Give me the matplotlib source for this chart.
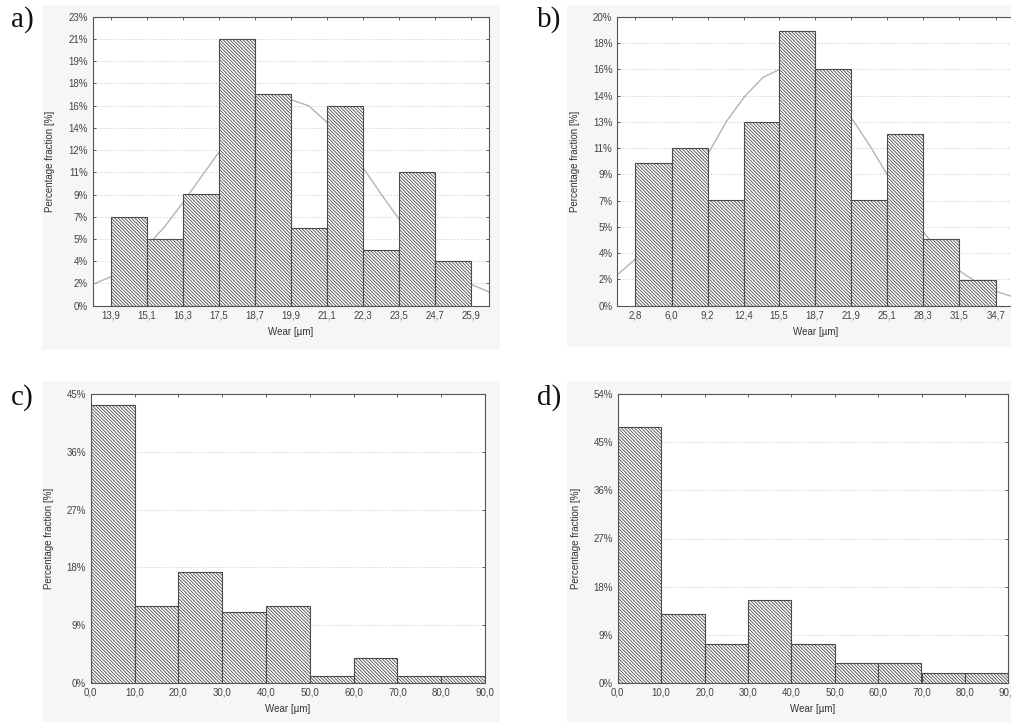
import numpy as np
import matplotlib.pyplot as plt
from matplotlib.patches import Rectangle

plt.rcParams['font.family'] = ['Liberation Sans', 'DejaVu Sans']
plt.rcParams['hatch.linewidth'] = 0.6

# a) wear histogram, bins of 1.2 um
edges_a = [13.9, 15.1, 16.3, 17.5, 18.7, 19.9, 21.1, 22.3, 23.5, 24.7, 25.9]
pct_a = [7.08, 5.31, 8.85, 21.24, 16.81, 6.19, 15.93, 4.42, 10.62, 3.54]
ylab_a = ["0%", "2%", "4%", "5%", "7%", "9%", "11%", "12%", "14%", "16%", "18%", "19%", "21%", "23%"]
curve_x_a = [13.3, 13.9, 14.5, 15.1, 15.7, 16.3, 16.9, 17.5, 18.1, 18.7, 19.3, 19.9,
             20.5, 21.1, 21.7, 22.3, 22.9, 23.5, 24.1, 24.7, 25.3, 25.9, 26.5]
curve_y_a = [1.7, 2.3, 3.3, 4.7, 6.3, 8.2, 10.2, 12.2, 14.0, 15.4, 16.2, 16.4,
             15.9, 14.6, 12.9, 11.0, 8.9, 6.9, 5.1, 3.6, 2.5, 1.7, 1.1]

# b)
edges_b = [2.8, 6.0, 9.2, 12.4, 15.5, 18.7, 21.9, 25.1, 28.3, 31.5, 34.7]
pct_b = [9.9, 10.9, 7.3, 12.7, 19.0, 16.4, 7.3, 11.9, 4.6, 1.8]
ylab_b = ["0%", "2%", "4%", "5%", "7%", "9%", "11%", "13%", "14%", "16%", "18%", "20%"]
curve_x_b = [1.3, 2.9, 4.5, 6.1, 7.7, 9.3, 10.9, 12.5, 14.1, 15.7, 17.3, 18.9,
             20.5, 22.1, 23.7, 25.3, 26.9, 28.5, 30.1, 31.7, 33.3, 34.9, 36.3]
curve_y_b = [2.2, 3.3, 5.0, 6.8, 8.7, 10.6, 12.8, 14.5, 15.8, 16.4, 16.4, 15.7,
             14.3, 12.8, 10.9, 8.8, 6.7, 4.9, 3.4, 2.3, 1.5, 0.95, 0.6]

# c)
edges_c = [0, 10, 20, 30, 40, 50, 60, 70, 80, 90]
pct_c = [43.3, 11.9, 17.2, 11.0, 11.9, 1.0, 3.8, 1.0, 1.0]
ylab_c = ["0%", "9%", "18%", "27%", "36%", "45%"]

# d)
edges_d = [0, 10, 20, 30, 40, 50, 60, 70, 80, 90]
pct_d = [47.8, 12.8, 7.2, 15.4, 7.2, 3.7, 3.7, 1.9, 1.9]
ylab_d = ["0%", "9%", "18%", "27%", "36%", "45%", "54%"]

W, H = 1011, 722
fig = plt.figure(figsize=(W / 100, H / 100), dpi=100)

# light grey graph backgrounds (pixel boxes: x0, y0, x1, y1)
for x0, y0, x1, y1 in [(42, 5, 500, 350), (567, 5, 1011, 347),
                       (42, 381, 500, 722), (567, 381, 1011, 722)]:
    fig.patches.append(Rectangle((x0 / W, 1 - y1 / H), (x1 - x0) / W, (y1 - y0) / H,
                                 transform=fig.transFigure, facecolor='#f6f6f6',
                                 edgecolor='none', zorder=-5))


def px_axes(x0, y0, x1, y1):
    return fig.add_axes([x0 / W, 1 - y1 / H, (x1 - x0) / W, (y1 - y0) / H])


def panel(ax, edges, pct, ymax, ylabels, xlim, xlabels, cx=None, cy=None):
    edges = np.array(edges, dtype=float)
    ax.set_facecolor('white')
    if cx is not None:
        ax.plot(cx, cy, color='#b4b4b4', lw=1.0, zorder=1)
    ax.bar(edges[:-1], pct, width=np.diff(edges), align='edge', color='white',
           edgecolor='#4a4a4a', linewidth=0.8, hatch='\\' * 10, zorder=2)
    ax.set_xlim(*xlim)
    ax.set_ylim(0, ymax)
    ax.set_yticks(np.linspace(0, ymax, len(ylabels)))
    ax.set_yticklabels(ylabels)
    ax.set_xticks(edges)
    ax.set_xticklabels(xlabels)
    ax.yaxis.grid(True, linestyle=(0, (1, 2)), color='#c4c4c4', linewidth=0.7)
    ax.set_axisbelow(True)
    ax.tick_params(labelsize=7, colors='#444444', direction='in', length=2.5,
                   top=True, right=True, width=0.6)
    for s in ax.spines.values():
        s.set_color('#555555')
        s.set_linewidth(0.8)
    ax.set_ylabel('Percentage fraction [%]', fontsize=7, color='#333333')
    ax.set_xlabel('Wear [µm]', fontsize=7, color='#333333')
    ax.yaxis.set_label_coords(-0.094, 0.5)
    ax.xaxis.set_label_coords(0.5, -0.075)


ax_a = px_axes(92.7, 16.7, 489, 305.7)
panel(ax_a, edges_a, pct_a, 23.0, ylab_a, (13.3, 26.5),
      [f"{v:.1f}".replace('.', ',') for v in edges_a], curve_x_a, curve_y_a)

ax_b = px_axes(617.3, 16.7, 1013.7, 305.7)
panel(ax_b, edges_b, pct_b, 20.0, ylab_b, (1.2, 36.3),
      [f"{v:.1f}".replace('.', ',') for v in edges_b], curve_x_b, curve_y_b)

ax_c = px_axes(90.7, 394.3, 485, 682.7)
panel(ax_c, edges_c, pct_c, 45.0, ylab_c, (0, 90),
      [f"{v:.1f}".replace('.', ',') for v in edges_c])

ax_d = px_axes(617.7, 394.3, 1008.3, 682.7)
panel(ax_d, edges_d, pct_d, 54.0, ylab_d, (0, 90),
      [f"{v:.1f}".replace('.', ',') for v in edges_d])

for lab, x, y in [("a)", 11, 6), ("b)", 537, 6), ("c)", 11, 384), ("d)", 537, 384)]:
    fig.text(x / W, 1 - y / H, lab, fontsize=21, family='Liberation Serif',
             va='top', ha='left', color='#111111')

fig.savefig('out.png', dpi=100)
